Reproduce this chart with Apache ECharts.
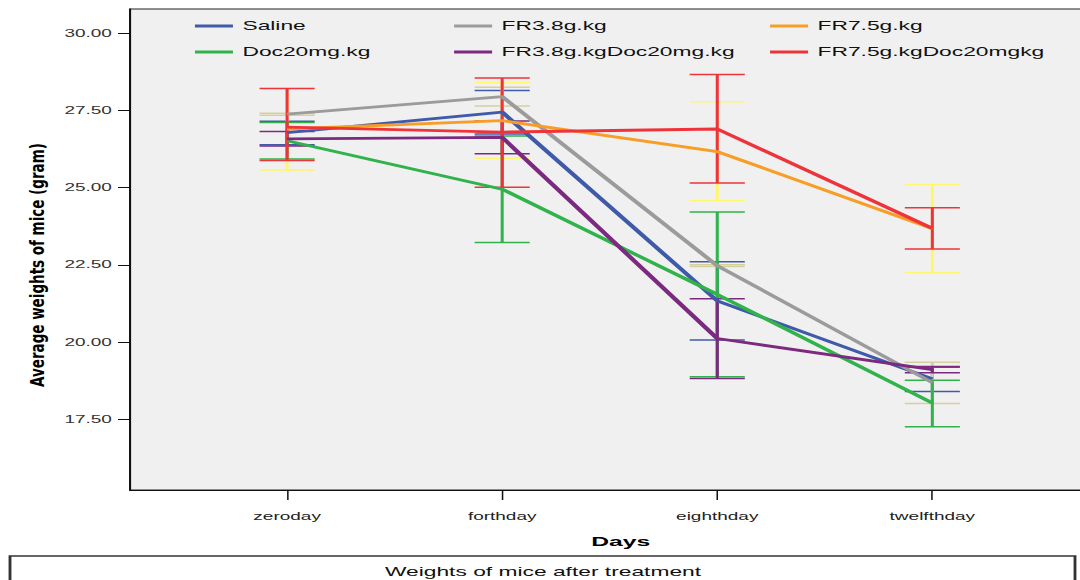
<!DOCTYPE html>
<html>
<head>
<meta charset="utf-8">
<script src="https://cdn.jsdelivr.net/npm/echarts@6/dist/echarts.min.js"></script>
<style>
  html, body { margin: 0; padding: 0; overflow: hidden; background: #fff; width: 1080px; height: 580px; }
  /* the chart is laid out narrow and widened horizontally */
  #chart { position: absolute; left: 0; top: 0; width: 585px; height: 580px; transform: scaleX(1.9); transform-origin: 0 0; }
</style>
</head>
<body>
<div id="chart"></div>
<script>
const STRETCH = 1.9;

const categories = ['zeroday', 'forthday', 'eighthday', 'twelfthday'];
const yTicks = [17.5, 20, 22.5, 25, 27.5, 30];

// group means and error-bar ends (gram)
const saline      = [26.78, 27.45, 21.33, 18.80];
const salineLow   = [26.39, 26.74, 20.06, 18.39];
const salineHigh  = [27.15, 28.15, 22.60, 19.18];

const fr38        = [27.38, 27.95, 22.47, 18.68];
const fr38Low     = [27.35, 27.65, 22.44, 18.00];
const fr38High    = [27.41, 28.25, 22.50, 19.34];

const fr75        = [26.90, 27.17, 26.17, 23.67];
const fr75Low     = [25.57, 25.95, 24.58, 22.24];
const fr75High    = [28.21, 28.41, 27.78, 25.10];

const doc20       = [26.52, 24.95, 21.54, 18.02];
const doc20Low    = [25.93, 23.22, 18.87, 17.25];
const doc20High   = [27.11, 26.67, 24.21, 18.76];

const fr38Doc     = [26.58, 26.63, 20.11, 19.10];
const fr38DocLow  = [26.35, 26.10, 18.81, 19.00];
const fr38DocHigh = [26.82, 27.16, 21.40, 19.20];

const fr75Doc     = [26.96, 26.80, 26.90, 23.68];
const fr75DocLow  = [25.88, 25.01, 25.15, 23.01];
const fr75DocHigh = [28.21, 28.55, 28.67, 24.35];

const groups = [
  { name: 'Saline',              mean: saline,  low: salineLow,  high: salineHigh,  line: '#3f5aa9', bar: '#3f5aa9' },
  { name: 'FR3.8g.kg',           mean: fr38,    low: fr38Low,    high: fr38High,    line: '#9b9b9b', bar: '#d6cf9e' },
  { name: 'FR7.5g.kg',           mean: fr75,    low: fr75Low,    high: fr75High,    line: '#f89d25', bar: '#fff66c' },
  { name: 'Doc20mg.kg',          mean: doc20,   low: doc20Low,   high: doc20High,   line: '#2fb34a', bar: '#2fb34a' },
  { name: 'FR3.8g.kgDoc20mg.kg', mean: fr38Doc, low: fr38DocLow, high: fr38DocHigh, line: '#7b2a80', bar: '#7b2a80' },
  { name: 'FR7.5g.kgDoc20mgkg',  mean: fr75Doc, low: fr75DocLow, high: fr75DocHigh, line: '#ee333b', bar: '#ee333b' }
];

const FONT = '"Liberation Sans", Arial, sans-serif';

function errorBarRenderer(color) {
  return function (params, api) {
    const x = api.value(0);
    const pLo = api.coord([x, api.value(1)]);
    const pHi = api.coord([x, api.value(2)]);
    const hw = 14.5;
    return {
      type: 'group',
      children: [
        { type: 'line', shape: { x1: pHi[0], y1: pHi[1], x2: pLo[0], y2: pLo[1] }, style: { stroke: color, lineWidth: 1.6 } },
        { type: 'line', shape: { x1: pHi[0] - hw, y1: pHi[1], x2: pHi[0] + hw, y2: pHi[1] }, style: { stroke: color, lineWidth: 1.5 } },
        { type: 'line', shape: { x1: pLo[0] - hw, y1: pLo[1], x2: pLo[0] + hw, y2: pLo[1] }, style: { stroke: color, lineWidth: 1.5 } }
      ]
    };
  };
}

const series = [];
groups.forEach(function (g) {
  series.push({
    name: g.name,
    type: 'line',
    data: g.mean.map(function (v, i) { return [i, v]; }),
    symbol: 'none',
    color: g.line,
    lineStyle: { color: g.line, width: 2.8 },
    silent: true
  });
  series.push({
    name: g.name + ' range',
    type: 'custom',
    data: g.mean.map(function (v, i) { return [i, g.low[i], g.high[i]]; }),
    encode: { x: 0, y: [1, 2] },
    renderItem: errorBarRenderer(g.bar),
    silent: true
  });
});

function legendColumn(left, names) {
  return {
    orient: 'vertical',
    left: left,
    top: 20,
    padding: 0,
    itemWidth: 20,
    itemHeight: 3,
    itemGap: 14,
    icon: 'rect',
    selectedMode: false,
    data: names,
    textStyle: { fontFamily: FONT, fontSize: 12, color: '#111' }
  };
}

const chart = echarts.init(document.getElementById('chart'), null, { renderer: 'svg' });
chart.setOption({
  animation: false,
  backgroundColor: '#ffffff',
  grid: {
    left: 68.4, right: 0, top: 9, bottom: 90,
    show: true, backgroundColor: '#f0f0f0', borderColor: '#222', borderWidth: 1
  },
  legend: [
    legendColumn(102.6, ['Saline', 'Doc20mg.kg']),
    legendColumn(239, ['FR3.8g.kg', 'FR3.8g.kgDoc20mg.kg']),
    legendColumn(405.3, ['FR7.5g.kg', 'FR7.5g.kgDoc20mgkg'])
  ],
  xAxis: {
    type: 'value',
    min: -0.7306,
    max: 3.833,
    name: 'Days',
    nameLocation: 'middle',
    nameGap: 45,
    nameTextStyle: { fontFamily: FONT, fontSize: 13, fontWeight: 'bold', color: '#000' },
    axisLine: { show: true, onZero: false, lineStyle: { color: '#111', width: 1 } },
    axisTick: { show: true, length: 10, customValues: [0, 1, 2, 3], lineStyle: { color: '#111', width: 0.8 } },
    axisLabel: {
      customValues: [0, 1, 2, 3],
      margin: 21,
      fontFamily: FONT, fontSize: 10, color: '#222',
      formatter: function (v) { return categories[Math.round(v)]; }
    },
    splitLine: { show: false }
  },
  yAxis: {
    type: 'value',
    min: 15.2,
    max: 30.79,
    axisLine: { show: true, onZero: false, lineStyle: { color: '#111', width: 1 } },
    axisTick: { show: true, length: 6.3, customValues: yTicks, lineStyle: { color: '#111', width: 1 } },
    axisLabel: {
      customValues: yTicks,
      margin: 9.5,
      fontFamily: FONT, fontSize: 10, color: '#333',
      formatter: function (v) { return v.toFixed(2); }
    },
    splitLine: { show: false }
  },
  graphic: [
    {
      type: 'text',
      x: 37 / STRETCH,
      y: 265,
      rotation: Math.PI / 2,
      scaleY: 1.35 / STRETCH,
      style: {
        text: 'Average weights of mice (gram)',
        font: 'bold 15px "Liberation Sans Narrow", "DejaVu Sans Condensed", sans-serif',
        textAlign: 'center',
        textVerticalAlign: 'middle',
        fill: '#000'
      }
    },
    {
      type: 'rect',
      shape: { x: 10 / STRETCH, y: 556, width: 1065 / STRETCH, height: 30 },
      style: { fill: '#fff', stroke: '#333', lineWidth: 1.5 }
    },
    {
      type: 'text',
      x: 543 / STRETCH,
      y: 572,
      style: {
        text: 'Weights of mice after treatment',
        font: '12px "Liberation Sans", Arial, sans-serif',
        textAlign: 'center',
        textVerticalAlign: 'middle',
        fill: '#111'
      }
    }
  ],
  series: series
});
</script>
</body>
</html>
